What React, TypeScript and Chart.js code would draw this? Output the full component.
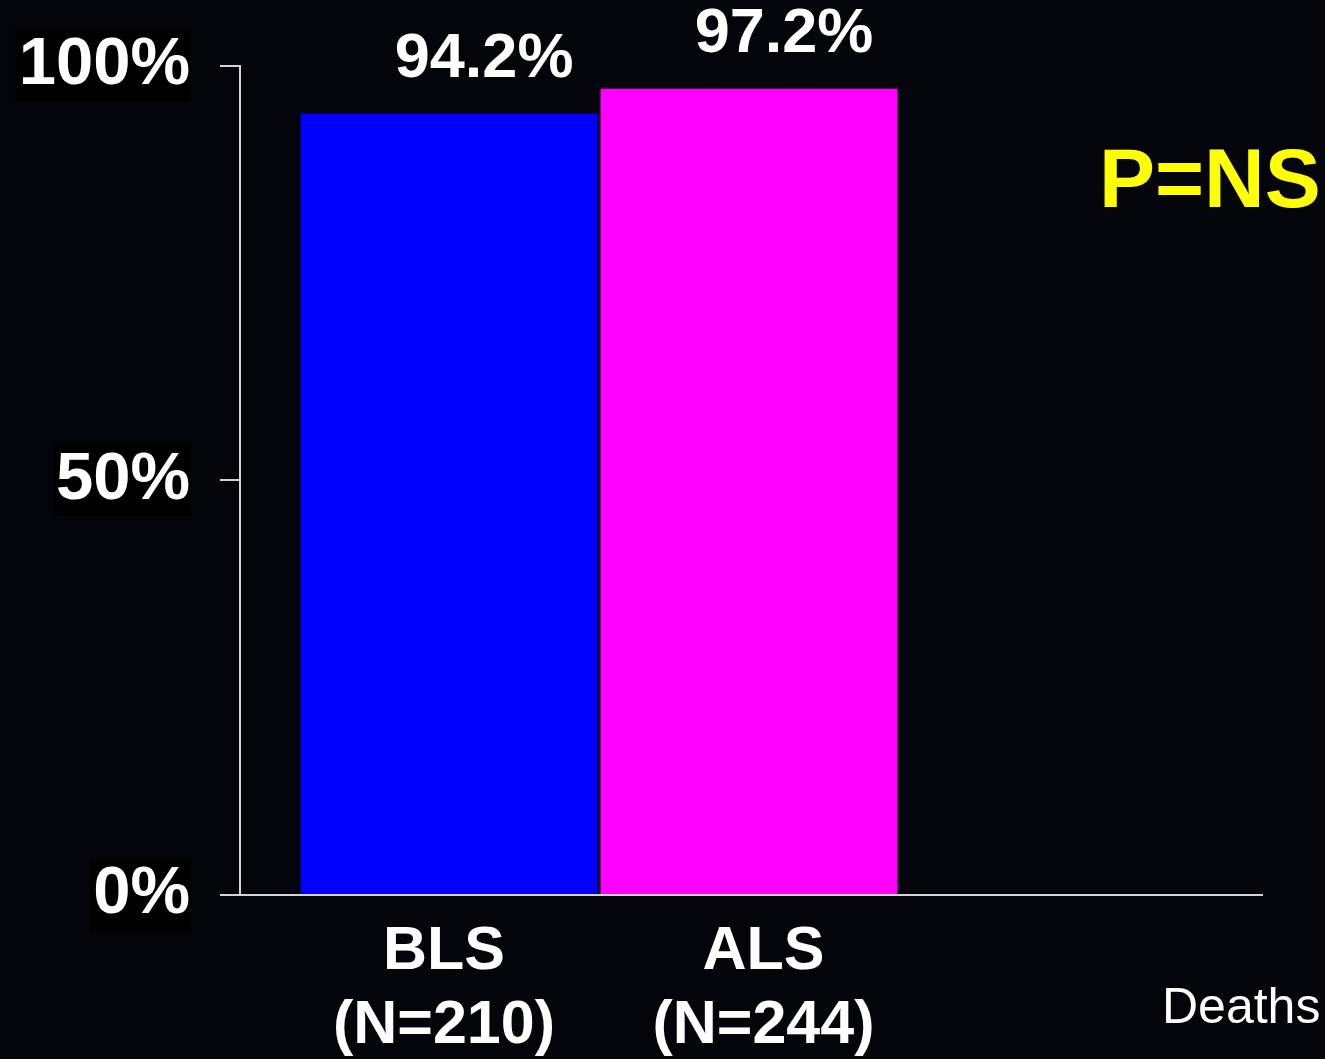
import React, { useEffect, useRef } from "react";
import { Chart, registerables } from "chart.js";

Chart.register(...registerables);

const categories = ["BLS", "ALS"];
const sampleSizes = ["(N=210)", "(N=244)"];
const deathRates = [94.2, 97.2];
const barColors = ["#0000ff", "#ff00ff"];
const yTicks = [0, 50, 100];
const pValueLabel = "P=NS";
const seriesName = "Deaths";

const FONT = "'Liberation Sans', Arial, Helvetica, sans-serif";
const AXIS_COLOR = "#d4d4d4";

export default function App() {
  const ref = useRef<HTMLCanvasElement | null>(null);

  useEffect(() => {
    document.body.style.margin = "0";
    document.body.style.background = "#04050a";
    const canvas = ref.current;
    if (!canvas) return;

    // small nudges of the category label anchors relative to bar centres (in x units)
    const labelShift = [-0.017, 0.048];

    const annotations = {
      id: "annotations",
      afterDatasetsDraw(chart: any) {
        const ctx = chart.ctx as CanvasRenderingContext2D;
        const meta = chart.getDatasetMeta(0);
        ctx.save();
        ctx.fillStyle = "#ffffff";
        ctx.font = `bold 63px ${FONT}`;
        ctx.textAlign = "center";
        ctx.textBaseline = "alphabetic";
        meta.data.forEach((bar: any, i: number) => {
          ctx.fillText(`${deathRates[i]}%`, bar.x + 35, bar.y - 37);
        });
        ctx.fillStyle = "#ffff00";
        ctx.font = `bold 84px ${FONT}`;
        ctx.textAlign = "left";
        ctx.fillText(pValueLabel, 1099, 207);
        ctx.fillStyle = "#ffffff";
        ctx.font = `50px ${FONT}`;
        ctx.fillText(seriesName, 1162, 1023);
        ctx.restore();
      },
    };

    const chart = new Chart(canvas, {
      type: "bar",
      data: {
        datasets: [
          {
            data: deathRates.map((v, i) => ({ x: i, y: v })),
            backgroundColor: barColors,
            borderWidth: 0,
            barPercentage: 0.99,
            categoryPercentage: 1,
          },
        ],
      },
      options: {
        animation: false,
        responsive: false,
        maintainAspectRatio: false,
        layout: { padding: { top: 65, right: 63, left: 0, bottom: 0 } },
        plugins: {
          legend: { display: false },
          tooltip: { enabled: false },
        },
        scales: {
          x: {
            type: "linear",
            offset: false,
            min: -0.697,
            max: 2.71,
            grid: { display: false },
            border: { display: true, color: AXIS_COLOR, width: 2 },
            afterBuildTicks: (s: any) => {
              s.ticks = categories.map((_, i) => ({ value: i + labelShift[i] }));
            },
            afterFit: (s: any) => {
              s.height = 164;
            },
            ticks: {
              color: "#ffffff",
              font: { family: FONT, size: 61, weight: "bold", lineHeight: 1.2 },
              padding: 13,
              maxRotation: 0,
              autoSkip: false,
              callback: (v: any) => {
                const i = Math.round(v);
                return [categories[i], sampleSizes[i]];
              },
            },
          },
          y: {
            min: 0,
            max: 100,
            afterBuildTicks: (s: any) => {
              s.ticks = yTicks.map((v) => ({ value: v }));
            },
            afterFit: (s: any) => {
              s.width = 240;
            },
            grid: {
              drawOnChartArea: false,
              drawTicks: true,
              tickLength: 20,
              color: AXIS_COLOR,
              lineWidth: 2,
            },
            border: { display: true, color: AXIS_COLOR, width: 2 },
            ticks: {
              color: "#ffffff",
              font: { family: FONT, size: 67, weight: "bold", lineHeight: 1.06 },
              padding: 30,
              showLabelBackdrop: true,
              backdropColor: "#000000",
              backdropPadding: { left: 3, right: 1, top: 0, bottom: 0 },
              callback: (v: any) => `${v}%`,
            },
          },
        },
      } as any,
      plugins: [annotations],
    });

    return () => chart.destroy();
  }, []);

  return (
    <div style={{ width: 1325, height: 1059, background: "#04050a", overflow: "hidden" }}>
      <canvas ref={ref} width={1325} height={1059} style={{ display: "block" }} />
    </div>
  );
}
